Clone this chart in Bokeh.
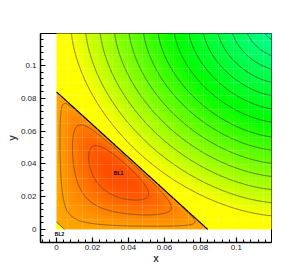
import numpy as np
from bokeh.plotting import figure
from bokeh.models import Range1d, FixedTicker, NumeralTickFormatter
from bokeh.core.properties import value
from bokeh.embed import file_html
from bokeh.resources import INLINE

# ---- data ----
x_ticks = [0, 0.02, 0.04, 0.06, 0.08, 0.1]
y_ticks = [0, 0.02, 0.04, 0.06, 0.08, 0.1]
x_lim = [-0.0089, 0.1195]
y_lim = [-0.008, 0.1197]
domain = [0.0, 0.12]

bl1_edge = 0.084        # BL1 region: x + y < bl1_edge
bl2_edge = 0.0045       # BL2 corner region: x + y < bl2_edge
out_center = 0.125      # centre of the outer (green) field
out_norm = 1.75
peak_exp = 0.5

out_levels = [0.011, 0.020, 0.028, 0.036, 0.044, 0.052, 0.060,
              0.069, 0.077, 0.085, 0.093, 0.101, 0.109, 0.117]
in_levels = [0.12, 0.48, 0.80]

out_stops = [0.0, 0.06, 0.118]
out_colors = ["#00FFA8", "#00FF00", "#FFFF00"]
in_stops = [0.0, 0.5, 1.0]
in_colors = ["#FFA800", "#FF7E00", "#FF4C00"]

mesh_lines = [0.006, 0.0144, 0.0228, 0.0312, 0.0396, 0.048, 0.0564, 0.0648,
              0.0732, 0.0816, 0.09, 0.0984, 0.1068, 0.1152]

label_text = ["BL1", "BL2"]
label_x = [0.0345, 0.0017]
label_y = [0.0345, -0.0027]

# ---- field ----
n = 480
xs = np.linspace(domain[0], domain[1], n)
X, Y = np.meshgrid(xs, xs)
a = np.abs(out_center - X)
b = np.abs(out_center - Y)
F = (a ** out_norm + b ** out_norm) ** (1.0 / out_norm)
inside = (X + Y < bl1_edge) & (X + Y > bl2_edge)
G = X * Y * np.clip(bl1_edge - X - Y, 0, None) ** peak_exp
G = G / G[inside].max()


def hex_rgb(cols):
    return np.array([[int(c[i:i + 2], 16) for i in (1, 3, 5)] for c in cols], dtype=float)


oc = hex_rgb(out_colors)
ic = hex_rgb(in_colors)
rgb = np.zeros((n, n, 3))
for k in range(3):
    rgb[..., k] = np.where(inside,
                           np.interp(G, in_stops, ic[:, k]),
                           np.interp(F, out_stops, oc[:, k]))

img = np.empty((n, n), dtype=np.uint32)
view = img.view(dtype=np.uint8).reshape((n, n, 4))
view[..., 0] = rgb[..., 0].astype(np.uint8)
view[..., 1] = rgb[..., 1].astype(np.uint8)
view[..., 2] = rgb[..., 2].astype(np.uint8)
view[..., 3] = 255

p = figure(frame_width=231, frame_height=209, output_backend="svg", toolbar_location=None,
           x_range=Range1d(*x_lim), y_range=Range1d(*y_lim),
           min_border_left=40, min_border_right=37, min_border_top=33, min_border_bottom=32)
p.background_fill_color = "white"
p.border_fill_color = "white"
p.outline_line_color = "black"
p.outline_line_width = 1

p.image_rgba(image=[img], x=domain[0], y=domain[0],
             dw=domain[1] - domain[0], dh=domain[1] - domain[0])

# faint computational mesh visible in the flood
for g in (p.xgrid, p.ygrid):
    g.ticker = FixedTicker(ticks=mesh_lines)
    g.grid_line_color = "white"
    g.grid_line_alpha = 0.13
    g.grid_line_width = 1
    g.level = "annotation"

Zout = np.where(inside, np.nan, F)
p.contour(xs, xs, Zout, sorted(out_levels), line_color="#3a3a20", line_width=0.8, line_alpha=0.85, fill_color=None)
Zin = np.where(inside, G, np.nan)
p.contour(xs, xs, Zin, sorted(in_levels), line_color="#5a3a18", line_width=0.8, line_alpha=0.85, fill_color=None)

p.line([domain[0], bl1_edge], [bl1_edge, domain[0]], line_color="black", line_width=1.2)
p.line([domain[0], bl2_edge], [bl2_edge, domain[0]], line_color="#303010", line_width=0.8)

p.text(x=label_x, y=label_y, text=label_text, text_font=value("Liberation Sans"),
       text_font_size="5px", text_font_style="bold", text_align="center",
       text_baseline="middle", text_color="black")

minor = list(np.round(np.arange(-0.008, 0.1201, 0.004), 4))
for ax, ticks in ((p.xaxis, x_ticks), (p.yaxis, y_ticks)):
    ax.ticker = FixedTicker(ticks=ticks, minor_ticks=minor)
    ax.formatter = NumeralTickFormatter(format="0.[00]")
    ax.major_tick_in = 5
    ax.major_tick_out = 0
    ax.minor_tick_in = 3
    ax.minor_tick_out = 0
    ax.axis_line_width = 1.5
    ax.major_tick_line_width = 1.2
    ax.major_label_text_font = "Liberation Sans"
    ax.major_label_text_font_size = "8px"
    ax.major_label_text_color = "#222222"
    ax.axis_label_text_font = "Liberation Sans"
    ax.axis_label_text_font_size = "10px"
    ax.axis_label_text_font_style = "bold"
    ax.axis_label_standoff = 0
p.xaxis.major_label_standoff = 2
p.yaxis.major_label_standoff = 4
p.xaxis.axis_label = "x"
p.yaxis.axis_label = "y"

open("out.html", "w").write(file_html(p, INLINE))
